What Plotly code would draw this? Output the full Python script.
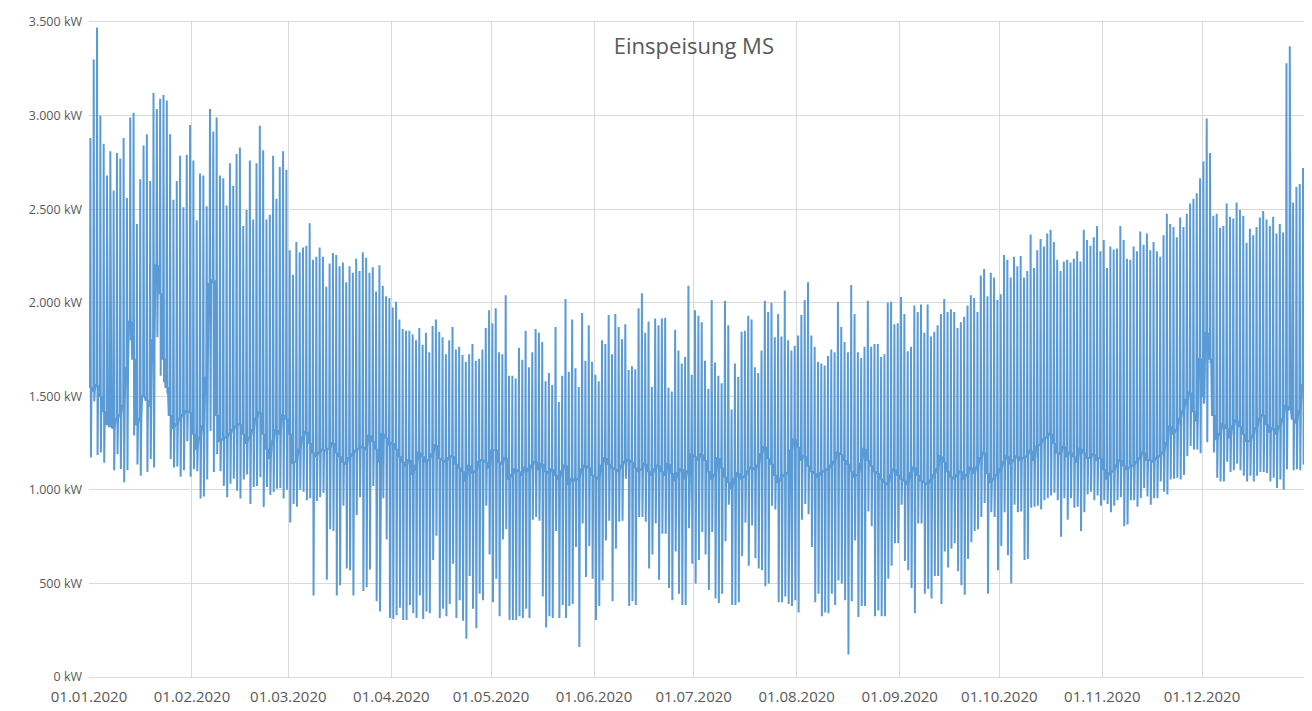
import datetime as dt
import plotly.graph_objects as go

# ---- data, one value per day of 2020 ----
start_date = "2020-01-01"

daily_max = [
    # Jan
    2880, 3300, 3470, 3000, 2850, 2680, 2810, 2600, 2800, 2770, 2880, 2560, 2990, 3015, 2420, 2660,
    2840, 2900, 2650, 3120, 3035, 3090, 3110, 3080, 2900, 2550, 2650, 2785, 2510, 2790, 2950,
    # Feb
    2760, 2440, 2690, 2680, 2515, 3035, 2915, 2990, 2680, 2665, 2520, 2745, 2625, 2795, 2830, 2410,
    2495, 2760, 2445, 2745, 2945, 2815, 2445, 2470, 2785, 2555, 2725, 2810, 2710, 2280,
    # Mar
    2150, 2325, 2270, 2295, 2305, 2425, 2230, 2245, 2295, 2245, 2085, 2210, 2265, 2255, 2195, 2215,
    2110, 2195, 2160, 2235, 2170, 2270, 2240, 2160, 2190, 2060, 2200, 2090, 2035, 2025,
    # Apr
    1975, 2005, 1910, 1860, 1850, 1850, 1830, 1800, 1865, 1775, 1840, 1735, 1875, 1910, 1845, 1815,
    1725, 1800, 1870, 1750, 1765, 1720, 1685, 1725, 1780, 1690, 1700, 1750, 1865, 1960,
    # May
    1890, 1970, 1735, 1725, 2040, 1610, 1610, 1595, 1760, 1695, 1850, 1655, 1735, 1860, 1840, 1790,
    1580, 1625, 1560, 1870, 1470, 1610, 2020, 1630, 1910, 1650, 1550, 1945, 1690, 1880,
    # Jun
    1685, 1615, 1580, 1800, 1780, 1935, 1725, 1940, 1870, 1805, 1885, 1640, 1660, 1645, 1970, 2050,
    1840, 1900, 1550, 1915, 1880, 1915, 1920, 1545, 1525, 1855, 1745, 1675, 1710, 2090,
    # Jul
    1615, 1960, 1930, 1895, 1690, 1540, 2015, 1680, 1610, 1570, 2010, 1880, 1430, 1675, 1605, 1845,
    1850, 1930, 1910, 1655, 1625, 1745, 2010, 1950, 2000, 1815, 1940, 1820, 2065, 1800,
    # Aug
    1745, 1770, 1825, 1935, 2015, 2110, 1825, 1765, 1685, 1675, 1665, 1715, 1750, 1735, 2005, 1870,
    1790, 1735, 2095, 1940, 1735, 1705, 1765, 2010, 1765, 1780, 1780, 1710, 1725, 2000,
    # Sep
    2005, 1885, 1890, 2030, 1940, 1740, 1765, 1985, 1950, 1990, 1840, 1990, 1820, 1845, 1880, 1940,
    2020, 1950, 1965, 1950, 1865, 1895, 1925, 1985, 2040, 2025, 1950, 2145, 2180, 2035,
    # Oct
    2160, 2135, 2015, 2045, 2255, 2230, 2135, 2245, 2195, 2250, 2135, 2170, 2365, 2185, 2280, 2340,
    2300, 2370, 2390, 2325, 2230, 2170, 2220, 2230, 2215, 2235, 2275, 2220, 2390, 2335,
    # Nov
    2305, 2350, 2410, 2275, 2335, 2185, 2300, 2285, 2290, 2410, 2335, 2235, 2230, 2300, 2275, 2380,
    2310, 2370, 2280, 2325, 2275, 2245, 2360, 2475, 2420, 2405, 2350, 2455, 2405, 2475,
    # Dec
    2530, 2555, 2585, 2665, 2755, 2985, 2800, 2465, 2475, 2400, 2410, 2530, 2460, 2450, 2535, 2495,
    2465, 2320, 2395, 2360, 2405, 2455, 2490, 2445, 2410, 2460, 2370, 2420, 2375, 3280, 3370, 2535,
    2620, 2635, 2720,
]

daily_min = [
    1173, 1473, 1186, 1200, 1145, 1443, 1350, 1105, 1190, 1110, 1040, 1105, 1800, 1290, 1135, 1075,
    1495, 1095, 1165, 1120, 1815, 1610, 1575, 1515, 1165, 1120, 1125, 1070, 1105, 1260, 1070,
    1110, 1100, 954, 965, 1055, 1315, 1096, 1190, 1100, 1020, 960, 1033, 1060, 995, 954, 1055,
    1082, 925, 1015, 1020, 1067, 909, 1015, 972, 988, 1006, 1010, 954, 1000, 825,
    925, 910, 1000, 990, 945, 955, 435, 940, 960, 985, 520, 790, 780, 435, 490, 915,
    580, 570, 435, 865, 960, 460, 480, 575, 1020, 405, 350, 955, 735, 315,
    310, 330, 370, 305, 305, 385, 340, 315, 435, 310, 350, 340, 625, 755, 315, 365,
    325, 390, 605, 315, 410, 300, 205, 540, 365, 260, 445, 410, 915, 655,
    400, 525, 325, 735, 790, 305, 305, 305, 325, 315, 365, 315, 840, 855, 835, 430,
    265, 325, 315, 780, 315, 385, 315, 380, 390, 695, 160, 820, 535, 700,
    525, 305, 380, 515, 730, 835, 405, 685, 830, 835, 1060, 380, 405, 385, 855, 855,
    830, 580, 655, 820, 520, 765, 765, 475, 410, 670, 445, 385, 385, 795,
    605, 500, 625, 775, 655, 465, 775, 420, 395, 445, 725, 920, 385, 385, 400, 645,
    825, 595, 810, 635, 580, 570, 485, 500, 915, 895, 400, 400, 430, 390,
    380, 410, 345, 840, 925, 870, 695, 400, 445, 325, 345, 340, 445, 385, 515, 500,
    410, 120, 405, 730, 320, 380, 380, 885, 805, 325, 355, 325, 325, 525,
    595, 715, 715, 920, 620, 570, 475, 340, 820, 820, 445, 470, 420, 540, 540, 390,
    670, 585, 685, 715, 565, 490, 440, 630, 720, 780, 790, 855, 930, 445,
    880, 855, 570, 700, 880, 650, 500, 920, 880, 885, 625, 630, 905, 910, 915, 895,
    945, 955, 970, 985, 945, 750, 955, 840, 955, 905, 910, 780, 880, 975,
    990, 945, 970, 915, 945, 925, 880, 915, 945, 960, 805, 815, 945, 945, 910, 955,
    1010, 965, 920, 955, 955, 1045, 990, 975, 1055, 1060, 1065, 1055, 1080, 1180,
    1235, 1215, 1215, 1195, 1460, 1255, 1675, 1200, 1065, 1045, 1045, 1150, 1095, 1105, 1140, 1105,
    1075, 1045, 1075, 1045, 1075, 1095, 1095, 1090, 1045, 1065, 1010, 1055, 1000, 1110, 1435, 1105,
    1110, 1105, 1135,
]

daily_base = [
    1550, 1530, 1560, 1500, 1420, 1350, 1340, 1330, 1380, 1400, 1450, 1650, 1900, 1700, 1350, 1380,
    1500, 1480, 1450, 1800, 2200, 2050, 1700, 1550, 1400, 1330, 1350, 1380, 1400, 1420, 1415,
    1300, 1220, 1280, 1340, 1600, 2100, 2120, 1400, 1260, 1270, 1280, 1300, 1320, 1340, 1350, 1300,
    1250, 1280, 1320, 1380, 1415, 1300, 1220, 1170, 1260, 1320, 1300, 1400, 1380, 1300,
    1145, 1150, 1215, 1280, 1310, 1250, 1200, 1180, 1200, 1215, 1210, 1220, 1250, 1200, 1180, 1150,
    1140, 1170, 1190, 1210, 1220, 1230, 1215, 1290, 1260, 1220, 1150, 1300, 1280, 1240,
    1250, 1220, 1180, 1150, 1130, 1160, 1085, 1130, 1200, 1180, 1150, 1160, 1190, 1240, 1170, 1160,
    1150, 1170, 1180, 1140, 1120, 1100, 1050, 1130, 1090, 1100, 1150, 1160, 1150, 1120,
    1210, 1215, 1150, 1140, 1170, 1060, 1080, 1110, 1100, 1080, 1120, 1100, 1130, 1150, 1110, 1140,
    1100, 1090, 1110, 1080, 1060, 1100, 1130, 1030, 1060, 1050, 1060, 1110, 1130, 1120,
    1080, 1070, 1060, 1130, 1170, 1140, 1120, 1110, 1100, 1130, 1150, 1160, 1150, 1120, 1100, 1110,
    1140, 1100, 1080, 1110, 1130, 1100, 1080, 1140, 1090, 1050, 1090, 1110, 1060, 1100,
    1190, 1180, 1160, 1190, 1160, 1100, 1060, 1080, 1170, 1120, 1070, 1040, 1010, 1060, 1090, 1060,
    1070, 1100, 1120, 1110, 1130, 1190, 1230, 1170, 1140, 1080, 1040, 1060, 1080, 1090,
    1210, 1270, 1230, 1160, 1180, 1130, 1100, 1090, 1070, 1090, 1100, 1110, 1130, 1150, 1200, 1190,
    1160, 1140, 1100, 1070, 1080, 1140, 1220, 1160, 1130, 1100, 1090, 1060, 1040, 1030,
    1080, 1110, 1080, 1060, 1050, 1030, 1090, 1120, 1080, 1050, 1040, 1030, 1050, 1080, 1110, 1180,
    1150, 1100, 1070, 1060, 1080, 1100, 1060, 1080, 1120, 1090, 1120, 1170, 1200, 1090,
    1040, 1060, 1080, 1110, 1150, 1180, 1140, 1160, 1180, 1160, 1170, 1180, 1210, 1160, 1230, 1240,
    1270, 1280, 1300, 1250, 1200, 1190, 1230, 1180, 1200, 1180, 1150, 1220, 1200, 1170,
    1170, 1190, 1160, 1170, 1110, 1060, 1090, 1100, 1130, 1160, 1130, 1110, 1120, 1130, 1150, 1170,
    1200, 1160, 1160, 1150, 1170, 1180, 1200, 1250, 1340, 1300, 1320, 1380, 1420, 1480,
    1520, 1420, 1370, 1700, 1500, 1840, 1700, 1400, 1270, 1300, 1350, 1330, 1280, 1340, 1370, 1340,
    1300, 1260, 1260, 1290, 1330, 1380, 1400, 1350, 1310, 1330, 1300, 1340, 1380, 1450, 1430, 1380,
    1360, 1420, 1560,
]

y_ticks = [0, 500, 1000, 1500, 2000, 2500, 3000, 3500]
month_ticks = ["2020-%02d-01" % m for m in range(1, 13)]
title_text = "Einspeisung MS"

# ---- build time series: each day -> base, base, max, min, base ----
d0 = dt.datetime.fromisoformat(start_date)
xs, ys = [], []
for i, (mx, mn, bs) in enumerate(zip(daily_max, daily_min, daily_base)):
    day = d0 + dt.timedelta(days=i)
    for hrs, val in ((0, bs), (7, bs), (10, mx), (14, mn), (18, bs)):
        xs.append(day + dt.timedelta(hours=hrs))
        ys.append(val)


def fmt_kw(v):
    return "{:,}".format(v).replace(",", ".") + " kW"


def fmt_date(s):
    y, m, d = s.split("-")
    return "%s.%s.%s" % (d, m, y)


fig = go.Figure()
fig.add_trace(go.Scatter(
    x=xs, y=ys, mode="lines",
    line=dict(color="#5B9BD5", width=2),
    hoverinfo="skip", showlegend=False,
))

# the page body adds an 8px margin, so the figure is sized 8px smaller
font_family = "Open Sans, Noto Sans, sans-serif"
fig.update_layout(
    width=1304, height=703,
    margin=dict(l=81, r=7, t=14, b=34),
    paper_bgcolor="white", plot_bgcolor="white",
    font=dict(family=font_family, size=13, color="#595959"),
    title=dict(text=title_text, x=0.526, xanchor="center", y=0.946, yanchor="middle",
               xref="container", yref="container", pad=dict(t=0, b=0, l=0, r=0),
               font=dict(family=font_family, size=22, color="#595959")),
    showlegend=False,
)
fig.update_xaxes(
    type="date",
    range=["2020-01-01", "2021-01-01"],
    tickvals=month_ticks,
    ticktext=[fmt_date(s) for s in month_ticks],
    showgrid=True, gridcolor="#D9D9D9", gridwidth=1,
    showline=True, linecolor="#D9D9D9", mirror=True,
    zeroline=False, ticks="", ticklen=0,
    automargin=False,
    ticklabelstandoff=6,
    tickfont=dict(size=15, color="#595959"),
)
fig.update_yaxes(
    range=[0, 3500],
    tickvals=y_ticks,
    ticktext=[fmt_kw(v) for v in y_ticks],
    showgrid=True, gridcolor="#D9D9D9", gridwidth=1,
    showline=False, zeroline=False, ticks="",
    automargin=False,
    ticklabelstandoff=6,
    tickfont=dict(size=12.5, color="#595959"),
)

fig.write_html("out.html")
